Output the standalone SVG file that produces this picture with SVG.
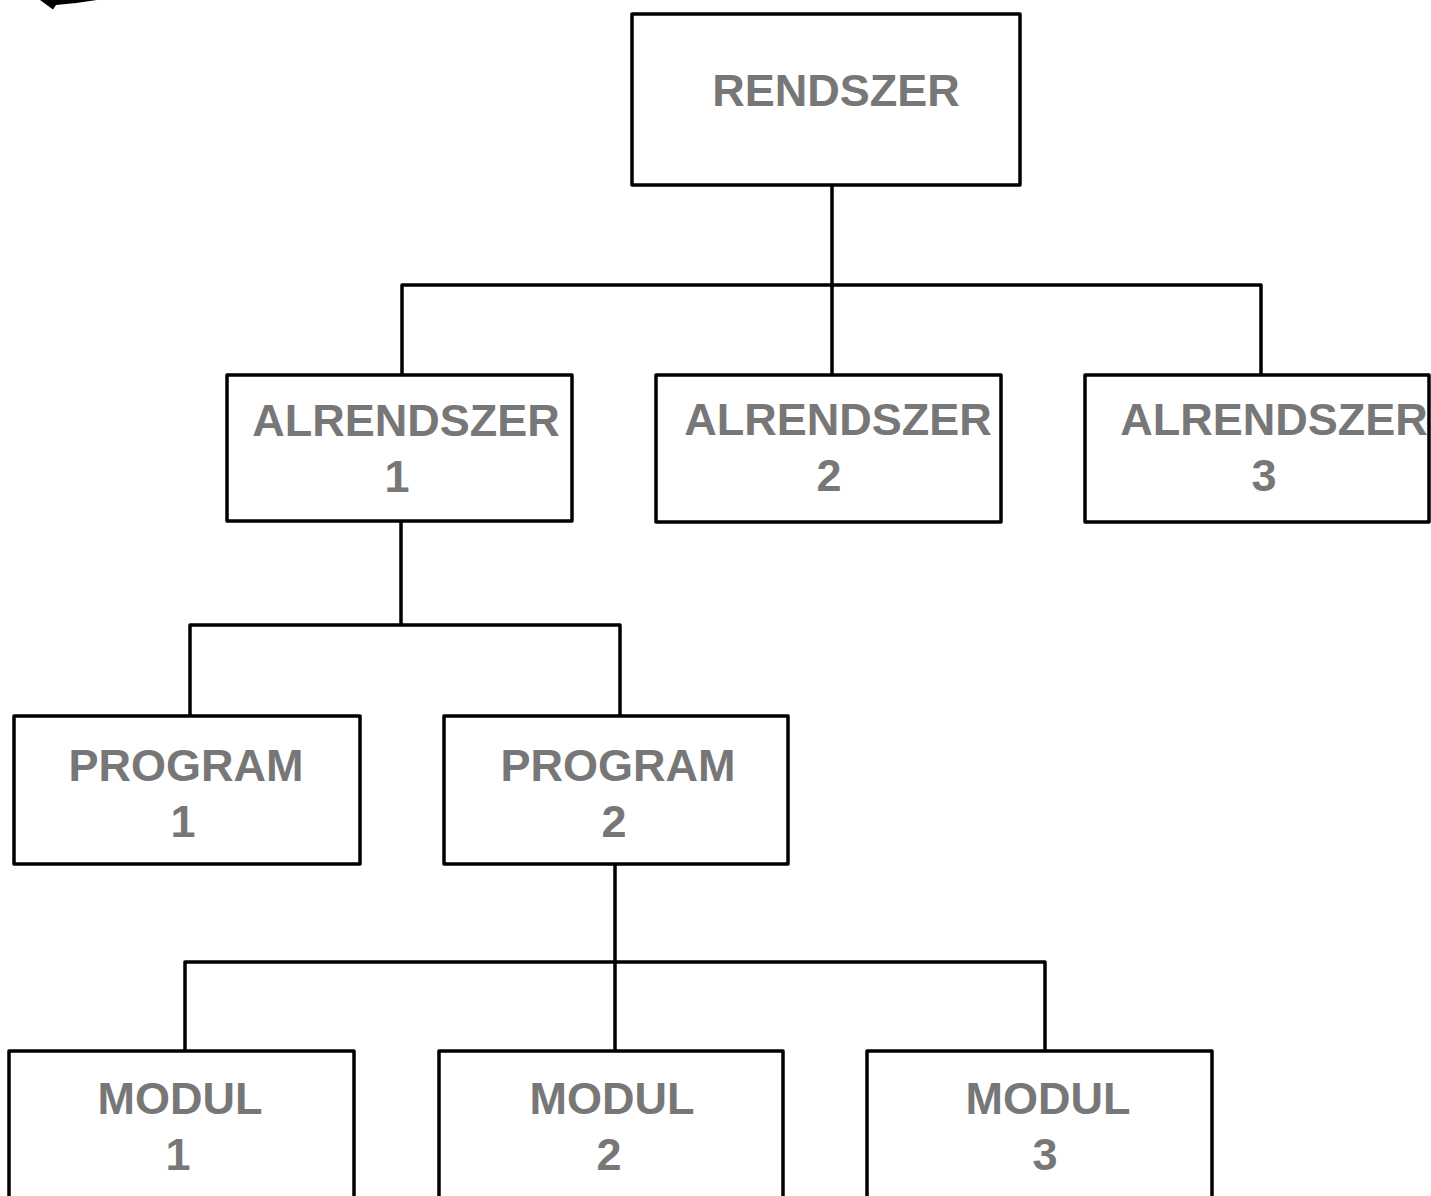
<svg xmlns="http://www.w3.org/2000/svg" width="1431" height="1196" viewBox="0 0 1431 1196">
<style>
.box{fill:#ffffff;stroke:#000000;stroke-width:3.5;stroke-linejoin:round}
.lbl{font-family:"Liberation Sans",Arial,sans-serif;font-weight:bold;font-size:45px;fill:#777777;text-anchor:middle}
.con{fill:none;stroke:#000000;stroke-width:3.5;stroke-linejoin:round;stroke-linecap:square}
</style>
<rect width="1431" height="1196" fill="#ffffff"/>
<path d="M40,0 L53,9.5 L56,5 Q76,3.5 97,0 Z" fill="#000000"/>
<g id="connectors">
<path class="con" d="M832,185 V375 M402,375 V285 H1261 V375"/>
<path class="con" d="M401,521 V625 M190,716 V625 H620 V716"/>
<path class="con" d="M615,864 V1051 M185,1051 V962 H1045 V1051"/>
</g>
<g id="rendszer">
<rect class="box" x="632" y="14" width="388" height="171"/>
<text class="lbl" x="836" y="106">RENDSZER</text>
</g>
<g id="alrendszer1">
<rect class="box" x="227" y="375" width="345" height="146"/>
<text class="lbl" x="406" y="436">ALRENDSZER</text>
<text class="lbl" x="397" y="492">1</text>
</g>
<g id="alrendszer2">
<rect class="box" x="656" y="375" width="345" height="147"/>
<text class="lbl" x="838" y="435">ALRENDSZER</text>
<text class="lbl" x="829" y="491">2</text>
</g>
<g id="alrendszer3">
<rect class="box" x="1085" y="375" width="344" height="147"/>
<text class="lbl" x="1274" y="435">ALRENDSZER</text>
<text class="lbl" x="1264" y="491">3</text>
</g>
<g id="program1">
<rect class="box" x="14" y="716" width="346" height="148"/>
<text class="lbl" x="186" y="781">PROGRAM</text>
<text class="lbl" x="183" y="837">1</text>
</g>
<g id="program2">
<rect class="box" x="444" y="716" width="344" height="148"/>
<text class="lbl" x="618" y="781">PROGRAM</text>
<text class="lbl" x="614" y="837">2</text>
</g>
<g id="modul1">
<rect class="box" x="9" y="1051" width="345" height="160"/>
<text class="lbl" x="180" y="1114">MODUL</text>
<text class="lbl" x="178" y="1170">1</text>
</g>
<g id="modul2">
<rect class="box" x="439" y="1051" width="344" height="160"/>
<text class="lbl" x="612" y="1114">MODUL</text>
<text class="lbl" x="609" y="1170">2</text>
</g>
<g id="modul3">
<rect class="box" x="867" y="1051" width="345" height="160"/>
<text class="lbl" x="1048" y="1114">MODUL</text>
<text class="lbl" x="1045" y="1170">3</text>
</g>
</svg>
